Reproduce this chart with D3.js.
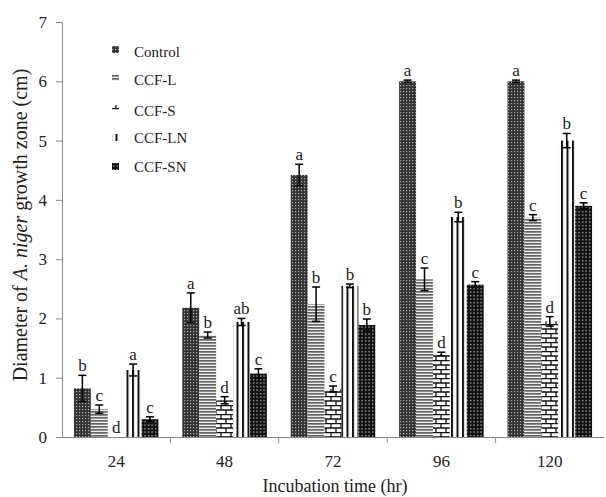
<!DOCTYPE html>
<html>
  <head>
    <meta charset="UTF-8" />
    <script src="https://d3js.org/d3.v7.min.js"></script>
    <style>
      body { margin: 0; background: #fff; }
      text { font-family: "Liberation Serif", "Times New Roman", serif; fill: #222; }
    </style>
  </head>
  <body>
    <div id="my_dataviz"></div>

    <script>
      var width = 606, height = 497;
      var margin = { top: 22, right: 2, bottom: 60, left: 62 };

      // data
      const hours = ["24", "48", "72", "96", "120"];
      const treatments = ["Control", "CCF-L", "CCF-S", "CCF-LN", "CCF-SN"];
      const control = [0.82, 2.18, 4.42, 6.0, 6.0];
      const ccfL = [0.47, 1.72, 2.24, 2.66, 3.7];
      const ccfS = [0, 0.62, 0.81, 1.4, 1.95];
      const ccfLN = [1.13, 1.94, 2.55, 3.71, 5.0];
      const ccfSN = [0.3, 1.07, 1.89, 2.57, 3.9];
      const errControl = [0.22, 0.25, 0.18, 0.02, 0.02];
      const errL = [0.07, 0.05, 0.29, 0.19, 0.05];
      const errS = [0, 0.06, 0.05, 0.03, 0.08];
      const errLN = [0.1, 0.06, 0.03, 0.08, 0.12];
      const errSN = [0.04, 0.08, 0.1, 0.05, 0.05];
      const lettersControl = ["b", "a", "a", "a", "a"];
      const lettersL = ["c", "b", "b", "c", "c"];
      const lettersS = ["d", "d", "c", "d", "d"];
      const lettersLN = ["a", "ab", "b", "b", "b"];
      const lettersSN = ["c", "c", "b", "c", "c"];
      const yTicks = [0, 1, 2, 3, 4, 5, 6, 7];

      var values = [control, ccfL, ccfS, ccfLN, ccfSN];
      var errors = [errControl, errL, errS, errLN, errSN];
      var letters = [lettersControl, lettersL, lettersS, lettersLN, lettersSN];

      var data = [];
      hours.forEach(function (h, i) {
        treatments.forEach(function (t, j) {
          data.push({ hour: h, key: t, value: values[j][i], err: errors[j][i], letter: letters[j][i], idx: j });
        });
      });

      var svg = d3
        .select("#my_dataviz")
        .append("svg")
        .attr("width", width)
        .attr("height", height);

      // fill patterns, one per treatment
      var defs = svg.append("defs");

      var p0 = defs.append("pattern").attr("id", "pat0").attr("patternUnits", "userSpaceOnUse")
        .attr("width", 3).attr("height", 3);
      p0.append("rect").attr("width", 3).attr("height", 3).attr("fill", "#333");
      p0.append("rect").attr("x", 1).attr("y", 1).attr("width", 1.2).attr("height", 1.2).attr("fill", "#aaa");

      var p1 = defs.append("pattern").attr("id", "pat1").attr("patternUnits", "userSpaceOnUse")
        .attr("width", 4).attr("height", 3);
      p1.append("rect").attr("width", 4).attr("height", 3).attr("fill", "#eee");
      p1.append("rect").attr("width", 4).attr("height", 1.7).attr("fill", "#666");

      var p2 = defs.append("pattern").attr("id", "pat2").attr("patternUnits", "userSpaceOnUse")
        .attr("width", 10).attr("height", 9);
      p2.append("rect").attr("width", 10).attr("height", 9).attr("fill", "#fff");
      p2.append("path")
        .attr("d", "M0,0.5H10M0,5H10M1,0.5V5M6,5V9")
        .attr("stroke", "#111").attr("stroke-width", 1.3).attr("fill", "none");

      var p3 = defs.append("pattern").attr("id", "pat3").attr("patternUnits", "userSpaceOnUse")
        .attr("width", 5.5).attr("height", 4);
      p3.append("rect").attr("width", 5.5).attr("height", 4).attr("fill", "#fff");
      p3.append("rect").attr("width", 2).attr("height", 4).attr("fill", "#111");

      var p4 = defs.append("pattern").attr("id", "pat4").attr("patternUnits", "userSpaceOnUse")
        .attr("width", 3.5).attr("height", 3.5);
      p4.append("rect").attr("width", 3.5).attr("height", 3.5).attr("fill", "#111");
      p4.append("rect").attr("x", 1).attr("y", 1).attr("width", 1.2).attr("height", 1.2).attr("fill", "#ddd");

      // scales
      var xScale = d3
        .scaleBand()
        .domain(hours)
        .range([margin.left, width - margin.right])
        .paddingInner(0)
        .paddingOuter(0);
      var xSub = d3
        .scaleBand()
        .domain(treatments)
        .range([0, xScale.bandwidth() * 0.78]);
      var yScale = d3
        .scaleLinear()
        .domain([0, 7])
        .range([437, 22]);

      // axes
      var yAxis = svg
        .append("g")
        .attr("transform", "translate(" + margin.left + ",0)")
        .call(d3.axisLeft(yScale).tickValues(yTicks).tickFormat(d3.format("d")).tickSize(6).tickSizeOuter(0).tickPadding(9));
      yAxis.selectAll("path, line").attr("stroke", "#888");
      yAxis.selectAll("text").attr("font-size", 17).attr("fill", "#222");

      var xAxis = svg
        .append("g")
        .attr("transform", "translate(0," + yScale(0) + ")")
        .call(d3.axisBottom(xScale).tickSize(0).tickPadding(18));
      xAxis.selectAll("path").attr("stroke", "#888");
      xAxis.selectAll("text").attr("font-size", 17).attr("fill", "#222");
      // tick marks sit between groups
      xAxis.selectAll(".sep")
        .data(hours.slice(1))
        .enter()
        .append("line")
        .attr("x1", (d) => xScale(d))
        .attr("x2", (d) => xScale(d))
        .attr("y1", 0)
        .attr("y2", 6)
        .attr("stroke", "#888");

      // bars
      var offset = (xScale.bandwidth() - xSub.range()[1]) / 2;
      var bars = svg.append("g");
      bars.selectAll("rect")
        .data(data.filter((d) => d.value > 0))
        .join("rect")
        .attr("x", (d) => xScale(d.hour) + offset + xSub(d.key))
        .attr("y", (d) => yScale(d.value))
        .attr("width", xSub.bandwidth())
        .attr("height", (d) => yScale(0) - yScale(d.value))
        .attr("fill", (d) => "url(#pat" + d.idx + ")");

      // error bars
      var cx = (d) => xScale(d.hour) + offset + xSub(d.key) + xSub.bandwidth() / 2;
      var eb = svg.append("g").attr("stroke", "#000").attr("stroke-width", 1.5);
      var withErr = data.filter((d) => d.err > 0);
      eb.selectAll(".stem").data(withErr).join("line")
        .attr("x1", cx).attr("x2", cx)
        .attr("y1", (d) => yScale(d.value + d.err))
        .attr("y2", (d) => yScale(d.value - d.err));
      eb.selectAll(".capT").data(withErr).join("line").attr("class", "capT")
        .attr("x1", (d) => cx(d) - 4).attr("x2", (d) => cx(d) + 4)
        .attr("y1", (d) => yScale(d.value + d.err)).attr("y2", (d) => yScale(d.value + d.err));
      eb.selectAll(".capB").data(withErr).join("line").attr("class", "capB")
        .attr("x1", (d) => cx(d) - 4).attr("x2", (d) => cx(d) + 4)
        .attr("y1", (d) => yScale(d.value - d.err)).attr("y2", (d) => yScale(d.value - d.err));

      // significance letters
      svg.append("g").selectAll("text")
        .data(data)
        .join("text")
        .attr("x", cx)
        .attr("y", (d) => yScale(d.value + d.err) - 4)
        .attr("text-anchor", "middle")
        .attr("font-size", 17)
        .text((d) => d.letter);

      // legend
      var legendY = [50, 78, 109, 138, 167];
      var legend = svg.append("g");
      treatments.forEach(function (t, j) {
        legend.append("rect")
          .attr("x", 112).attr("y", legendY[j] - 4)
          .attr("width", 7).attr("height", 7)
          .attr("fill", "url(#pat" + j + ")");
        legend.append("text")
          .attr("x", 134).attr("y", legendY[j] + 5 + (j < 3 ? 2 : 0))
          .attr("font-size", 15)
          .text(t);
      });

      // axis titles
      svg.append("text")
        .attr("x", 335)
        .attr("y", 492)
        .attr("text-anchor", "middle")
        .attr("font-size", 18)
        .text("Incubation time (hr)");

      var yTitle = svg.append("text")
        .attr("transform", "translate(27,225) rotate(-90)")
        .attr("text-anchor", "middle")
        .attr("font-size", 20);
      yTitle.append("tspan").text("Diameter of ");
      yTitle.append("tspan").attr("font-style", "italic").text("A. niger");
      yTitle.append("tspan").text(" growth zone (cm)");
    </script>
  </body>
</html>
